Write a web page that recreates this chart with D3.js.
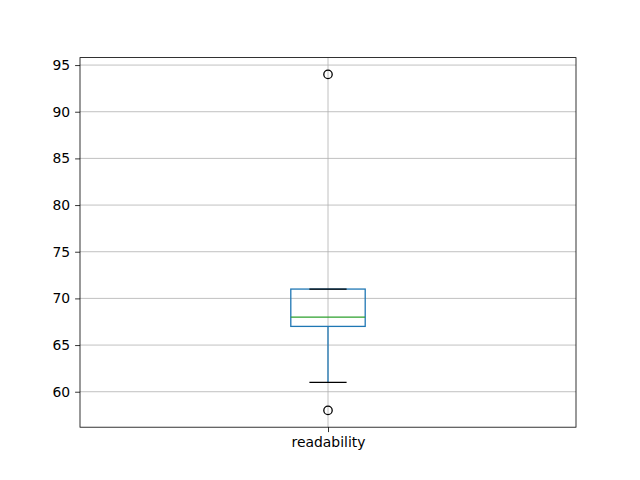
<!DOCTYPE html>
<html>
  <head>
    <script src="https://d3js.org/d3.v7.min.js"></script>
    <style>
      body { margin: 0; background: #fff; }
      text { font-family: "DejaVu Sans", sans-serif; }
    </style>
  </head>
  <body>
    <svg width="640" height="480"></svg>
  </body>
  <script>
    // box stats
    var categories = ["readability"];
    var q1 = [67];
    var median = [68];
    var q3 = [71];
    var whiskerLow = [61];
    var whiskerHigh = [71];
    var fliers = [[58, 94]];
    var yTicks = [60, 65, 70, 75, 80, 85, 90, 95];

    var svg = d3.select("svg");
    var mLeft = 80, mRight = 576, mTop = 57.6, mBottom = 427.2;

    var x = d3.scaleLinear().domain([0.5, 1.5]).range([mLeft, mRight]);
    var y = d3.scaleLinear().domain([56.2, 95.8]).range([mBottom, mTop]);

    // grid
    svg.append("g").selectAll("line")
      .data(yTicks).enter().append("line")
      .attr("x1", mLeft).attr("x2", mRight)
      .attr("y1", function(d) { return y(d); })
      .attr("y2", function(d) { return y(d); })
      .attr("stroke", "#b0b0b0").attr("stroke-width", 0.8);

    svg.append("g").selectAll("line")
      .data(categories).enter().append("line")
      .attr("x1", function(d, i) { return x(i + 1); })
      .attr("x2", function(d, i) { return x(i + 1); })
      .attr("y1", mTop).attr("y2", mBottom)
      .attr("stroke", "#b0b0b0").attr("stroke-width", 0.8);

    var bw = 0.15, lw = 1.3;
    var g = svg.append("g");
    categories.forEach(function(c, i) {
      var p = i + 1;
      // whiskers
      g.append("line").attr("x1", x(p)).attr("x2", x(p))
        .attr("y1", y(q1[i])).attr("y2", y(whiskerLow[i]))
        .attr("stroke", "#1f77b4").attr("stroke-width", lw);
      g.append("line").attr("x1", x(p)).attr("x2", x(p))
        .attr("y1", y(q3[i])).attr("y2", y(whiskerHigh[i]))
        .attr("stroke", "#1f77b4").attr("stroke-width", lw);
      // box
      g.append("rect")
        .attr("x", x(p - bw / 2)).attr("width", x(p + bw / 2) - x(p - bw / 2))
        .attr("y", y(q3[i])).attr("height", y(q1[i]) - y(q3[i]))
        .attr("fill", "none").attr("stroke", "#1f77b4").attr("stroke-width", lw);
      // caps
      [whiskerLow[i], whiskerHigh[i]].forEach(function(v) {
        g.append("line").attr("x1", x(p - bw / 4)).attr("x2", x(p + bw / 4))
          .attr("y1", y(v)).attr("y2", y(v))
          .attr("stroke", "black").attr("stroke-width", lw);
      });
      // median
      g.append("line").attr("x1", x(p - bw / 2)).attr("x2", x(p + bw / 2))
        .attr("y1", y(median[i])).attr("y2", y(median[i]))
        .attr("stroke", "#2ca02c").attr("stroke-width", lw);
      // fliers
      g.selectAll("circle.f" + i).data(fliers[i]).enter().append("circle")
        .attr("class", "f" + i)
        .attr("cx", x(p)).attr("cy", function(d) { return y(d); })
        .attr("r", 4.2).attr("fill", "none")
        .attr("stroke", "black").attr("stroke-width", 1.3);
    });

    // axes
    var yAxis = d3.axisLeft(y).tickValues(yTicks).tickSize(4.9).tickPadding(4.9);
    var xAxis = d3.axisBottom(x).tickValues([1]).tickFormat(function(d) { return categories[d - 1]; })
      .tickSize(4.9).tickPadding(4.9);

    var ya = svg.append("g").attr("transform", "translate(" + mLeft + ",0)").call(yAxis);
    var xa = svg.append("g").attr("transform", "translate(0," + mBottom + ")").call(xAxis);
    [ya, xa].forEach(function(a) {
      a.select(".domain").remove();
      a.selectAll(".tick line").attr("stroke", "black").attr("stroke-width", 0.8);
      a.selectAll(".tick text").attr("fill", "black").style("font-size", "13.9px")
        .style("font-family", "DejaVu Sans");
    });

    svg.append("rect")
      .attr("x", mLeft).attr("y", mTop)
      .attr("width", mRight - mLeft).attr("height", mBottom - mTop)
      .attr("fill", "none").attr("stroke", "black").attr("stroke-width", 0.8);
  </script>
</html>
